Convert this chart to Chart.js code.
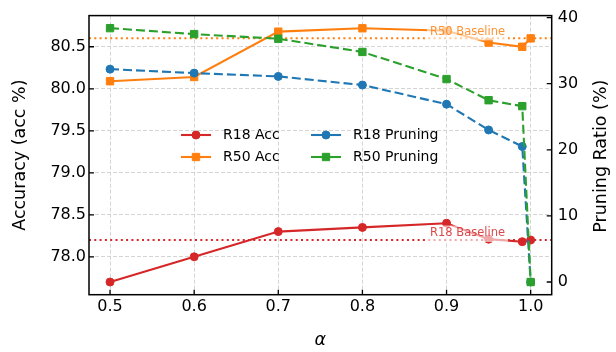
<!DOCTYPE html>
<html>
<head>
<meta charset="utf-8">
<script src="https://cdn.jsdelivr.net/npm/chart.js@4.4.1/dist/chart.umd.min.js"></script>
<style>
  html, body { margin: 0; padding: 0; background: #fff; }
  #wrap { width: 616px; height: 352px; }
</style>
</head>
<body>
<div id="wrap"><canvas id="accChart" width="616" height="352"></canvas></div>
<script>
// alpha values (x axis)
const alphas = [0.5, 0.6, 0.7, 0.8, 0.9, 0.95, 0.99, 1.0];

// accuracy, left axis (%)
const r18Acc = [77.70, 78.00, 78.30, 78.35, 78.40, 78.21, 78.18, 78.20];
const r50Acc = [80.09, 80.14, 80.68, 80.72, 80.69, 80.55, 80.50, 80.60];

// pruning ratio, right axis (%)
const r18Pruning = [32.2, 31.6, 31.1, 29.8, 26.9, 23.0, 20.5, 0];
const r50Pruning = [38.4, 37.5, 36.8, 34.8, 30.7, 27.5, 26.6, 0];

// baselines
const r18Baseline = 78.2;
const r50Baseline = 80.6;

// ticks
const xTicks = [0.5, 0.6, 0.7, 0.8, 0.9, 1.0];
const accTicks = [78.0, 78.5, 79.0, 79.5, 80.0, 80.5];
const pruneTicks = [0, 10, 20, 30, 40];

const RED = '#d62728', ORANGE = '#ff7f0e', BLUE = '#1f77b4', GREEN = '#2ca02c';
const FONT = '"DejaVu Sans", sans-serif';

Chart.defaults.font.family = FONT;

function pts(ys) {
  return alphas.map((a, i) => ({ x: a, y: ys[i] }));
}

function series(label, ys, color, axis, style, dashed, order) {
  return {
    label: label,
    data: pts(ys),
    yAxisID: axis,
    borderColor: color,
    backgroundColor: color,
    borderWidth: 2.1,
    borderDash: dashed ? [9, 4] : [],
    pointStyle: style,
    pointRadius: style === 'rect' ? 5.2 : 4,
    pointBorderWidth: 1,
    pointHoverRadius: 4,
    tension: 0,
    order: order
  };
}

// frame, inward ticks, baselines and right title
const decorPlugin = {
  id: 'decor',
  beforeDatasetsDraw(chart) {
    const ctx = chart.ctx, a = chart.chartArea, yA = chart.scales.yAcc;
    ctx.save();
    ctx.lineWidth = 2;
    ctx.setLineDash([2, 3.3]);
    [[r50Baseline, ORANGE], [r18Baseline, RED]].forEach(([v, c]) => {
      const y = yA.getPixelForValue(v);
      ctx.strokeStyle = c;
      ctx.beginPath(); ctx.moveTo(a.left, y); ctx.lineTo(a.right, y); ctx.stroke();
    });
    ctx.restore();
  },
  afterDatasetsDraw(chart) {
    const ctx = chart.ctx, a = chart.chartArea;
    const xS = chart.scales.x, yA = chart.scales.yAcc, yP = chart.scales.yPrune;

    // baseline labels with a faint white box
    ctx.save();
    ctx.font = '11.5px ' + FONT;
    ctx.textAlign = 'center';
    ctx.textBaseline = 'middle';
    [['R50 Baseline', r50Baseline, ORANGE], ['R18 Baseline', r18Baseline, RED]].forEach(([t, v, c]) => {
      const cx = xS.getPixelForValue(0.925);
      const ly = yA.getPixelForValue(v);
      const cy = ly - 6.5;
      const w = ctx.measureText(t).width;
      ctx.fillStyle = 'rgba(255,255,255,0.6)';
      ctx.fillRect(cx - w / 2 - 3, cy - 8, w + 6, ly - cy + 10);
      ctx.globalAlpha = 0.85;
      ctx.fillStyle = c;
      ctx.fillText(t, cx, cy);
      ctx.globalAlpha = 1;
    });
    ctx.restore();

    // frame
    ctx.save();
    ctx.strokeStyle = '#000';
    ctx.lineWidth = 1.5;
    ctx.setLineDash([]);
    ctx.strokeRect(a.left, a.top, a.right - a.left, a.bottom - a.top);

    // inward ticks
    ctx.lineWidth = 1.3;
    ctx.beginPath();
    xTicks.forEach(v => {
      const x = xS.getPixelForValue(v);
      ctx.moveTo(x, a.bottom); ctx.lineTo(x, a.bottom - 5);
    });
    accTicks.forEach(v => {
      const y = yA.getPixelForValue(v);
      ctx.moveTo(a.left, y); ctx.lineTo(a.left + 5, y);
    });
    pruneTicks.forEach(v => {
      const y = yP.getPixelForValue(v);
      ctx.moveTo(a.right, y); ctx.lineTo(a.right - 5, y);
    });
    ctx.stroke();

    // right axis title, reading bottom to top
    ctx.translate(601.5, (a.top + a.bottom) / 2 + 1);
    ctx.rotate(-Math.PI / 2);
    ctx.font = '17.5px ' + FONT;
    ctx.fillStyle = '#000';
    ctx.textAlign = 'center';
    ctx.textBaseline = 'middle';
    ctx.fillText('Pruning Ratio (%)', 0, 0);
    ctx.restore();
  }
};

// two-column legend in the middle of the plot
const legendPlugin = {
  id: 'twoColLegend',
  afterDraw(chart) {
    const ctx = chart.ctx;
    const cols = [181, 311];
    const rows = [135, 157];
    ctx.save();
    ctx.font = '14px ' + FONT;
    ctx.textBaseline = 'middle';
    chart.data.datasets.forEach((d, i) => {
      const x = cols[Math.floor(i / 2)], y = rows[i % 2];
      ctx.strokeStyle = d.borderColor;
      ctx.fillStyle = d.borderColor;
      ctx.lineWidth = 2.1;
      ctx.setLineDash([]);
      ctx.beginPath(); ctx.moveTo(x, y); ctx.lineTo(x + 30, y); ctx.stroke();
      ctx.beginPath();
      if (d.pointStyle === 'rect') {
        const s = d.pointRadius * Math.SQRT1_2;
        ctx.rect(x + 15 - s, y - s, 2 * s, 2 * s);
      } else {
        ctx.arc(x + 15, y, d.pointRadius, 0, Math.PI * 2);
      }
      ctx.fill();
      ctx.lineWidth = 1;
      ctx.stroke();
      ctx.fillStyle = '#000';
      ctx.fillText(d.label, x + 42, y);
    });
    ctx.restore();
  }
};

const ctx = document.getElementById('accChart').getContext('2d');

new Chart(ctx, {
  type: 'line',
  data: {
    datasets: [
      series('R18 Acc', r18Acc, RED, 'yAcc', 'circle', false, 3),
      series('R50 Acc', r50Acc, ORANGE, 'yAcc', 'rect', false, 2),
      series('R18 Pruning', r18Pruning, BLUE, 'yPrune', 'circle', true, 1),
      series('R50 Pruning', r50Pruning, GREEN, 'yPrune', 'rect', true, 0)
    ]
  },
  options: {
    responsive: false,
    animation: false,
    devicePixelRatio: 1,
    layout: { padding: { top: 10, left: 0, right: 0, bottom: 0 } },
    plugins: {
      legend: { display: false },
      tooltip: { enabled: false }
    },
    scales: {
      x: {
        type: 'linear',
        min: 0.475,
        max: 1.025,
        afterBuildTicks: s => { s.ticks = xTicks.map(v => ({ value: v })); },
        afterFit: s => { s.height = 57.3; },
        ticks: {
          callback: v => v.toFixed(1),
          padding: 3,
          color: '#000',
          font: { size: 16 },
          autoSkip: false,
          maxRotation: 0
        },
        grid: { color: '#d4d4d4', lineWidth: 1, drawTicks: false },
        border: { display: false, dash: [4, 2] },
        title: {
          display: true,
          text: 'α',
          color: '#000',
          font: { size: 17.5, style: 'italic' },
          padding: { top: 0, bottom: 1.5 }
        }
      },
      yAcc: {
        type: 'linear',
        position: 'left',
        min: 77.549,
        max: 80.871,
        afterBuildTicks: s => { s.ticks = accTicks.map(v => ({ value: v })); },
        afterFit: s => { s.width = 89; },
        ticks: {
          callback: v => v.toFixed(1),
          padding: 3,
          color: '#000',
          font: { size: 16 },
          autoSkip: false
        },
        grid: { color: '#d4d4d4', lineWidth: 1, drawTicks: false },
        border: { display: false, dash: [4, 2] },
        title: {
          display: true,
          text: 'Accuracy (acc %)',
          color: '#000',
          font: { size: 17.5 },
          padding: { top: 9.5, bottom: 0 }
        }
      },
      yPrune: {
        type: 'linear',
        position: 'right',
        min: -1.92,
        max: 40.3,
        afterBuildTicks: s => { s.ticks = pruneTicks.map(v => ({ value: v })); },
        afterFit: s => { s.width = 64.3; },
        ticks: {
          callback: v => String(v),
          padding: 6,
          color: '#000',
          font: { size: 16 },
          autoSkip: false
        },
        grid: { drawOnChartArea: false, drawTicks: false },
        border: { display: false }
      }
    }
  },
  plugins: [decorPlugin, legendPlugin]
});
</script>
</body>
</html>
